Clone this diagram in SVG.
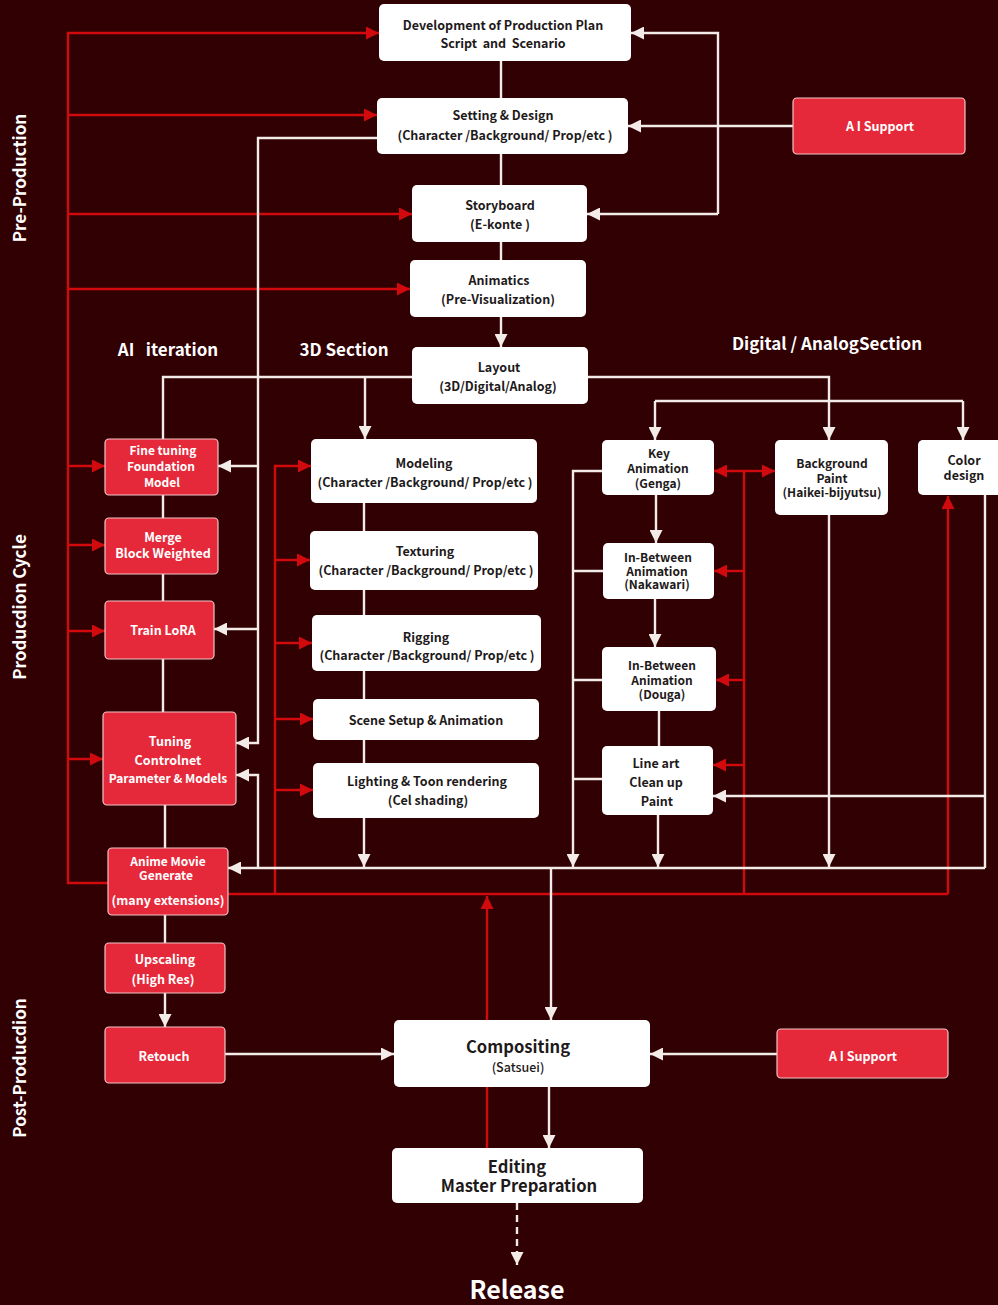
<svg xmlns="http://www.w3.org/2000/svg" width="998" height="1305" viewBox="0 0 998 1305">
<defs>
<style>
.wn{fill:#ffffff;}
.rn{fill:#e6293a;stroke:#f2c4c4;stroke-width:1.2;}
text{font-family:"Noto Sans CJK SC","Noto Sans",sans-serif;font-weight:700;text-anchor:middle;white-space:pre;}
.t{font-size:12.5px;fill:#1e1a1a;}
.tw{font-size:12.5px;fill:#ffffff;}
.s{font-size:12px;}
.sec{font-size:17px;fill:#ffffff;}
.big{font-size:16.6px;fill:#1e1a1a;}
.wl{stroke:#f3ebe7;stroke-width:2.4;fill:none;}
.rl{stroke:#d10a0e;stroke-width:2.4;fill:none;}
.wa{marker-end:url(#aw);}
.ra{marker-end:url(#ar);}
</style>
<marker id="aw" viewBox="0 0 10 10" refX="10" refY="5" markerWidth="13" markerHeight="13" markerUnits="userSpaceOnUse" orient="auto"><path d="M0,0 L10,5 L0,10 z" fill="#f3ebe7"/></marker>
<marker id="ar" viewBox="0 0 10 10" refX="10" refY="5" markerWidth="13" markerHeight="13" markerUnits="userSpaceOnUse" orient="auto"><path d="M0,0 L10,5 L0,10 z" fill="#d10a0e"/></marker>
</defs>
<rect width="998" height="1305" fill="#300003"/>

<g id="section-labels">
<text class="sec" transform="rotate(-90 26 178)" x="26" y="178">Pre-Production</text>
<text class="sec" transform="rotate(-90 26 607)" x="26" y="607">Producdion Cycle</text>
<text class="sec" transform="rotate(-90 26 1068)" x="26" y="1068">Post-Producdion</text>
<text class="sec" x="168" y="356" xml:space="preserve">AI   iteration</text>
<text class="sec" x="344" y="356">3D Section</text>
<text class="sec" x="827" y="350">Digital / AnalogSection</text>
<text class="sec" x="517" y="1299" style="font-size:25px;font-weight:600">Release</text>
</g>

<g id="connectors">
<!-- red -->
<path class="rl ra" d="M108,883 H68 V33 H379"/>
<path class="rl ra" d="M68,115 H377"/>
<path class="rl ra" d="M68,214 H412"/>
<path class="rl ra" d="M68,289 H410"/>
<path class="rl ra" d="M68,466 H105"/>
<path class="rl ra" d="M68,545 H105"/>
<path class="rl ra" d="M68,631 H105"/>
<path class="rl ra" d="M68,759 H103"/>
<path class="rl" d="M228,894 H948"/>
<path class="rl ra" d="M948,894 V496"/>
<path class="rl ra" d="M275,894 V466 H311"/>
<path class="rl ra" d="M275,560 H310"/>
<path class="rl ra" d="M275,643 H312"/>
<path class="rl ra" d="M275,719 H313"/>
<path class="rl ra" d="M275,790 H313"/>
<path class="rl ra" d="M487,1148 V896"/>
<path class="rl ra" d="M744,894 V471 H714"/>
<path class="rl ra" d="M744,471 H775"/>
<path class="rl ra" d="M744,571 H714"/>
<path class="rl ra" d="M744,680 H716"/>
<path class="rl ra" d="M744,765 H713"/>
<!-- white -->
<path class="wl" d="M501,61 V98 M501,154 V185 M501,242 V260"/>
<path class="wl wa" d="M501,317 V347"/>
<path class="wl wa" d="M793,126 H628"/>
<path class="wl wa" d="M718,214 V33 H631"/>
<path class="wl wa" d="M718,214 H587"/>
<path class="wl wa" d="M377,138 H258 V743 H236"/>
<path class="wl wa" d="M258,466 H218"/>
<path class="wl wa" d="M258,629 H214"/>
<path class="wl wa" d="M985,868 H228"/>
<path class="wl wa" d="M258,868 V775 H236"/>
<path class="wl" d="M985,495 V868"/>
<path class="wl wa" d="M985,796 H713"/>
<path class="wl wa" d="M551,868 V1020"/>
<path class="wl" d="M412,377 H163 V439"/>
<path class="wl wa" d="M365,377 V439"/>
<path class="wl wa" d="M588,377 H829 V440"/>
<path class="wl" d="M655,401 H963"/>
<path class="wl wa" d="M655,401 V440"/>
<path class="wl wa" d="M963,401 V440"/>
<path class="wl" d="M163,495 V518 M163,574 V601 M163,659 V712 M165,805 V848 M165,915 V943"/>
<path class="wl wa" d="M165,993 V1027"/>
<path class="wl wa" d="M225,1054 H394"/>
<path class="wl wa" d="M777,1054 H650"/>
<path class="wl wa" d="M549,1087 V1148"/>
<path class="wl wa" d="M517,1203 V1265" stroke-dasharray="7 5"/>
<path class="wl" d="M364,503 V531 M364,590 V615 M364,671 V699 M364,740 V763"/>
<path class="wl wa" d="M364,818 V867"/>
<path class="wl wa" d="M602,471 H573 V867"/>
<path class="wl" d="M603,571 H573 M602,680 H573 M602,779 H573"/>
<path class="wl wa" d="M656,495 V543"/>
<path class="wl wa" d="M655,599 V647"/>
<path class="wl" d="M659,711 V746"/>
<path class="wl wa" d="M658,815 V867"/>
<path class="wl wa" d="M829,515 V867"/>
</g>

<g id="dev-plan"><rect class="wn" x="379" y="4" width="252" height="57" rx="5"/>
<text class="t" x="503" y="30">Development of Production Plan</text>
<text class="t" x="503" y="48" xml:space="preserve">Script  and  Scenario</text></g>

<g id="setting-design"><rect class="wn" x="377" y="98" width="251" height="56" rx="5"/>
<text class="t" x="503" y="120">Setting &amp; Design</text>
<text class="t" x="505" y="140">(Character /Background/ Prop/etc )</text></g>

<g id="storyboard"><rect class="wn" x="412" y="185" width="175" height="57" rx="5"/>
<text class="t" x="500" y="210">Storyboard</text>
<text class="t" x="500" y="229">(E-konte )</text></g>

<g id="animatics"><rect class="wn" x="410" y="260" width="176" height="57" rx="5"/>
<text class="t" x="499" y="285">Animatics</text>
<text class="t" x="498" y="304">(Pre-Visualization)</text></g>

<g id="layout"><rect class="wn" x="412" y="347" width="176" height="57" rx="5"/>
<text class="t" x="499" y="372">Layout</text>
<text class="t" x="498" y="391">(3D/Digital/Analog)</text></g>

<g id="ai-support-top"><rect class="rn" x="793" y="98" width="172" height="56" rx="4"/>
<text class="tw" x="880" y="131">A I Support</text></g>

<g id="fine-tuning"><rect class="rn" x="105" y="439" width="113" height="56" rx="4"/>
<text class="tw s" x="163" y="455">Fine tuning</text>
<text class="tw s" x="161" y="471">Foundation</text>
<text class="tw s" x="162" y="487">Model</text></g>

<g id="merge"><rect class="rn" x="105" y="518" width="113" height="56" rx="4"/>
<text class="tw" x="163" y="542">Merge</text>
<text class="tw" x="163" y="558">Block Weighted</text></g>

<g id="train-lora"><rect class="rn" x="105" y="601" width="109" height="58" rx="4"/>
<text class="tw" x="163" y="635">Train LoRA</text></g>

<g id="tuning-controlnet"><rect class="rn" x="103" y="712" width="133" height="93" rx="4"/>
<text class="tw" x="170" y="746">Tuning</text>
<text class="tw" x="168" y="765">Controlnet</text>
<text class="tw" x="168" y="783" style="font-size:12px">Parameter &amp; Models</text></g>

<g id="anime-movie"><rect class="rn" x="108" y="848" width="120" height="67" rx="4"/>
<text class="tw s" x="168" y="866">Anime Movie</text>
<text class="tw s" x="166" y="880">Generate</text>
<text class="tw" x="168" y="905">(many extensions)</text></g>

<g id="upscaling"><rect class="rn" x="105" y="943" width="120" height="50" rx="4"/>
<text class="tw" x="165" y="964">Upscaling</text>
<text class="tw" x="163" y="984">(High Res)</text></g>

<g id="retouch"><rect class="rn" x="105" y="1027" width="120" height="56" rx="4"/>
<text class="tw" x="164" y="1061">Retouch</text></g>

<g id="modeling"><rect class="wn" x="311" y="439" width="226" height="64" rx="5"/>
<text class="t" x="424" y="468">Modeling</text>
<text class="t" x="425" y="487">(Character /Background/ Prop/etc )</text></g>

<g id="texturing"><rect class="wn" x="310" y="531" width="228" height="59" rx="5"/>
<text class="t" x="425" y="556">Texturing</text>
<text class="t" x="426" y="575">(Character /Background/ Prop/etc )</text></g>

<g id="rigging"><rect class="wn" x="312" y="615" width="229" height="56" rx="5"/>
<text class="t" x="426" y="642">Rigging</text>
<text class="t" x="427" y="660">(Character /Background/ Prop/etc )</text></g>

<g id="scene-setup"><rect class="wn" x="313" y="699" width="226" height="41" rx="5"/>
<text class="t" x="426" y="725">Scene Setup &amp; Animation</text></g>

<g id="lighting"><rect class="wn" x="313" y="763" width="226" height="55" rx="5"/>
<text class="t" x="427" y="786">Lighting &amp; Toon rendering</text>
<text class="t" x="428" y="805">(Cel shading)</text></g>

<g id="key-animation"><rect class="wn" x="602" y="440" width="112" height="55" rx="5"/>
<text class="t s" x="659" y="458">Key</text>
<text class="t s" x="658" y="473">Animation</text>
<text class="t s" x="658" y="488">(Genga)</text></g>

<g id="in-between-nakawari"><rect class="wn" x="603" y="543" width="111" height="56" rx="5"/>
<text class="t s" x="658" y="562">In-Between</text>
<text class="t s" x="657" y="575.5">Animation</text>
<text class="t s" x="657" y="589">(Nakawari)</text></g>

<g id="in-between-douga"><rect class="wn" x="602" y="647" width="114" height="64" rx="5"/>
<text class="t s" x="662" y="669.5">In-Between</text>
<text class="t s" x="662" y="684.5">Animation</text>
<text class="t s" x="662" y="699">(Douga)</text></g>

<g id="line-art"><rect class="wn" x="602" y="746" width="111" height="69" rx="5"/>
<text class="t" x="656" y="768">Line art</text>
<text class="t" x="656" y="787">Clean up</text>
<text class="t" x="657" y="806">Paint</text></g>

<g id="background-paint"><rect class="wn" x="775" y="440" width="113" height="75" rx="5"/>
<text class="t s" x="832" y="468">Background</text>
<text class="t s" x="832" y="482.5">Paint</text>
<text class="t s" x="832" y="497">(Haikei-bijyutsu)</text></g>

<g id="color-design"><rect class="wn" x="918" y="440" width="90" height="55" rx="5"/>
<text class="t" x="964" y="464.5">Color</text>
<text class="t" x="964" y="480">design</text></g>

<g id="compositing"><rect class="wn" x="394" y="1020" width="256" height="67" rx="5"/>
<text class="big" x="518" y="1053">Compositing</text>
<text class="t" x="518" y="1072" style="font-weight:500">(Satsuei)</text></g>

<g id="ai-support-bottom"><rect class="rn" x="777" y="1029" width="171" height="49" rx="4"/>
<text class="tw" x="863" y="1061">A I Support</text></g>

<g id="editing"><rect class="wn" x="392" y="1148" width="251" height="55" rx="5"/>
<text class="big" x="517" y="1172.5" style="font-weight:600">Editing</text>
<text class="big" x="519" y="1192" style="font-weight:600">Master Preparation</text></g>
</svg>
